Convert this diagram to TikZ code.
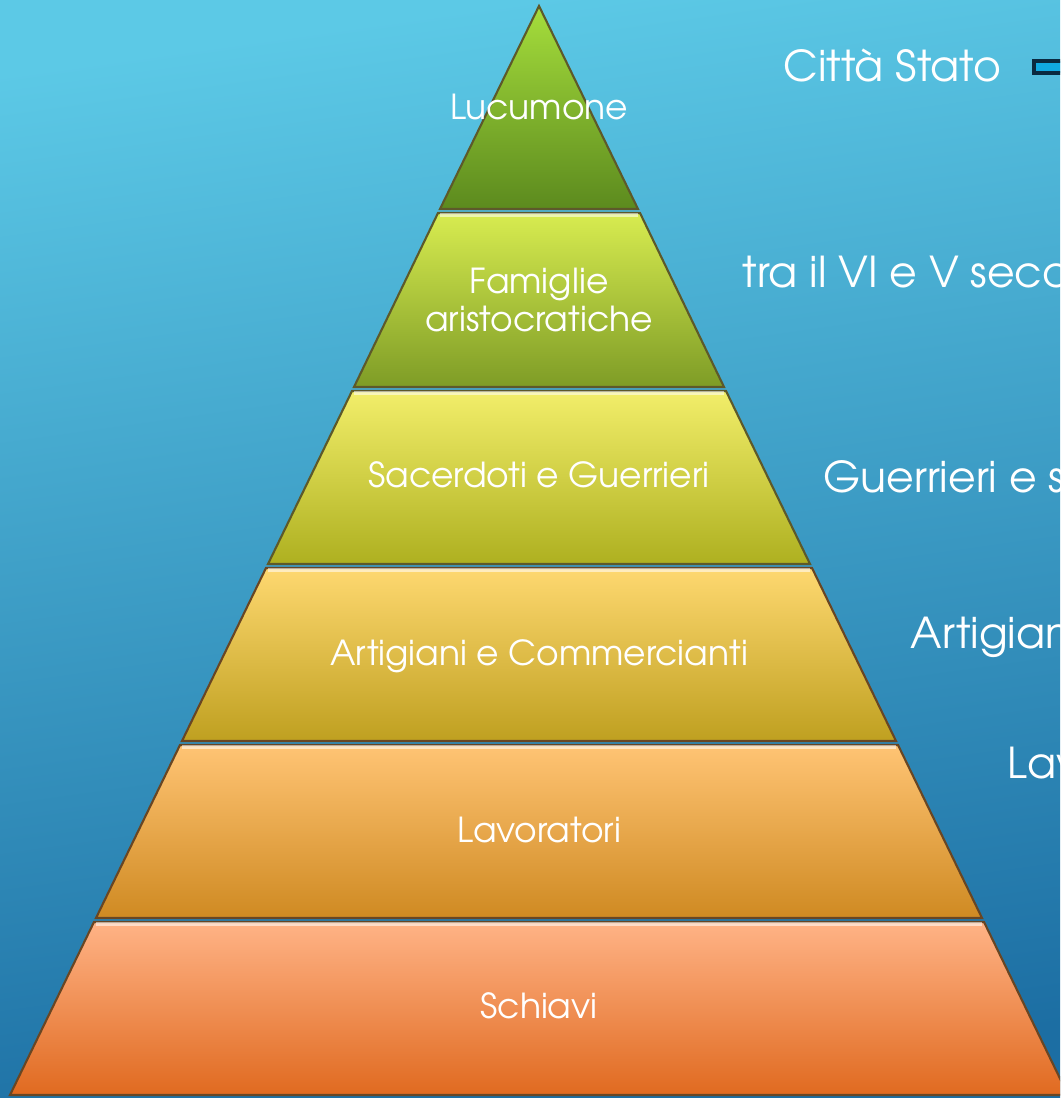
\documentclass[tikz,border=0pt]{standalone}
\usepackage{fontspec}
\setmainfont{texgyreadventor}[Extension=.otf, UprightFont=*-regular]
\usetikzlibrary{positioning}

\definecolor{skytop}{HTML}{5CC9E6}
\definecolor{skybot}{HTML}{1C6EA3}

\begin{document}
\begin{tikzpicture}[x=0.01cm, y=-0.01cm,
	label/.style={text=white, font=\fontsize{9.8}{10.9}\selectfont, inner sep=0pt},
	side/.style={text=white, font=\fontsize{12.1}{14}\selectfont, inner sep=0pt, anchor=base west},
	band/.style={draw=black!45!#1, line width=0.6pt},
	shine/.style={white, opacity=0.55, line width=1.2pt}]
\path[use as bounding box, clip] (0,0) rectangle (1060,1098);
\shade[top color=skytop, bottom color=skybot, shading angle=8] (0,0) rectangle (1060,1098);

% piramide
\shade[band=olive, top color={rgb,255:red,166;green,222;blue,60}, bottom color={rgb,255:red,92;green,138;blue,30}]
	(539,6) -- (638,209) -- (440,209) -- cycle;
\shade[band=olive, top color={rgb,255:red,216;green,236;blue,80}, bottom color={rgb,255:red,126;green,156;blue,38}]
	(438,213) -- (640,213) -- (724,387) -- (354,387) -- cycle;
\shade[band=olive, top color={rgb,255:red,242;green,238;blue,106}, bottom color={rgb,255:red,174;green,176;blue,32}]
	(352,391) -- (726,391) -- (810,564) -- (268,564) -- cycle;
\shade[band=brown, top color={rgb,255:red,254;green,216;blue,112}, bottom color={rgb,255:red,191;green,160;blue,32}]
	(266,568) -- (812,568) -- (896,741) -- (182,741) -- cycle;
\shade[band=brown, top color={rgb,255:red,255;green,196;blue,116}, bottom color={rgb,255:red,207;green,138;blue,34}]
	(180,745) -- (898,745) -- (982,918) -- (96,918) -- cycle;
\shade[band=brown, top color={rgb,255:red,255;green,179;blue,134}, bottom color={rgb,255:red,224;green,106;blue,32}]
	(94,922) -- (984,922) -- (1068,1095) -- (10,1095) -- cycle;

\draw[shine] (440,215) -- (638,215);
\draw[shine] (354,393) -- (724,393);
\draw[shine] (268,570) -- (810,570);
\draw[shine] (182,747) -- (896,747);
\draw[shine] (96,924) -- (982,924);

% etichette
\node[label, anchor=base] (lucumone) at (539,120) {Lucumone};
\node[label, align=center] (famiglie) at (539,300) {Famiglie\\aristocratiche};
\node[label, anchor=base] (sacerdoti) at (539,488) {Sacerdoti e Guerrieri};
\node[label, anchor=base] (artigiani) at (539,665) {Artigiani e Commercianti};
\node[label, anchor=base] (lavoratori) at (539,842) {Lavoratori};
\node[label, anchor=base] (schiavi) at (539,1018) {Schiavi};

\node[side] (citta) at (783,82) {Città Stato};
\node[side] (secolo) at (742,288) {tra il VI e V secolo};
\node[side] (guerrieri) at (823,493) {Guerrieri e sacerdoti};
\node[side] (artig) at (910,648) {Artigiani};
\node[side] (lav) at (1007,778) {Lavoratori};

\draw[draw={rgb,255:red,10;green,42;blue,64}, fill={rgb,255:red,16;green,170;blue,226}, line width=1.4pt]
	(1034,61) rectangle (1075,73);
\end{tikzpicture}
\end{document}
